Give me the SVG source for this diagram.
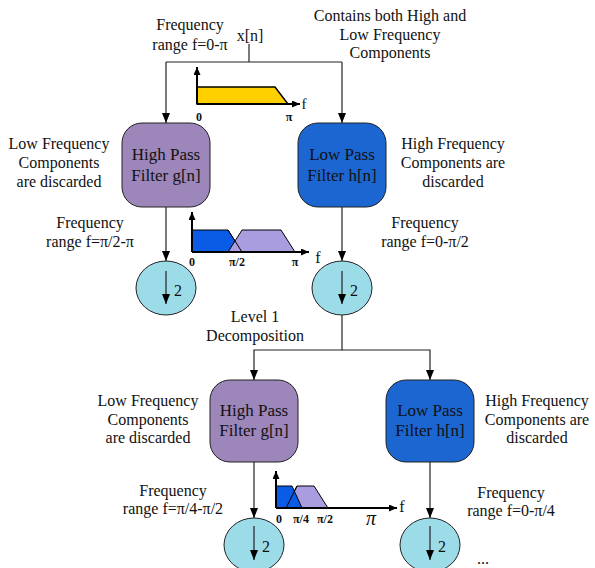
<svg xmlns="http://www.w3.org/2000/svg" width="595" height="568" viewBox="0 0 595 568">
<defs>
<marker id="ah" markerWidth="10" markerHeight="8" refX="10" refY="4" orient="auto" markerUnits="userSpaceOnUse"><path d="M0,0 L10,4 L0,8 z" fill="#000"/></marker>
<marker id="ahs" markerWidth="8" markerHeight="7" refX="8" refY="3.5" orient="auto" markerUnits="userSpaceOnUse"><path d="M0,0 L8,3.5 L0,7 z" fill="#000"/></marker>
<style>
text{font-family:"Liberation Serif","Times New Roman",serif;font-size:16px;fill:#111;text-anchor:middle}
.bx{font-size:17px}
.lbl{font-size:12px;font-weight:bold}
.big{font-size:20px;font-style:italic}
.hp{fill:#9c86ba;stroke:#222;stroke-width:1}
.lp{fill:#1c66d2;stroke:#222;stroke-width:1}
.ds{fill:#9cdbe8;stroke:#222;stroke-width:1}
.c{fill:none;stroke:#222;stroke-width:1.2}
.ax{fill:none;stroke:#000;stroke-width:2}
.sb{fill:#0a5ce6;stroke:#000;stroke-width:1}
.sp{fill:#a99ddf;stroke:#000;stroke-width:1}
.ln{fill:none;stroke:#000;stroke-width:1}
</style>
</defs>
<rect width="595" height="568" fill="#fff"/>

<g id="connectors">
<path class="c" d="M249,44 V62"/>
<path class="c" d="M166,62 H342"/>
<path class="c" d="M166,62 V123" marker-end="url(#ah)"/>
<path class="c" d="M342,62 V123" marker-end="url(#ah)"/>
<path class="c" d="M166,207 V261" marker-end="url(#ah)"/>
<path class="c" d="M342,207 V261" marker-end="url(#ah)"/>
<path class="c" d="M342,315 V350 H254 V380" marker-end="url(#ah)"/>
<path class="c" d="M342,350 H430 V380" marker-end="url(#ah)"/>
<path class="c" d="M254,462 V518" marker-end="url(#ah)"/>
<path class="c" d="M430,462 V518" marker-end="url(#ah)"/>
</g>

<g id="input">
<text x="190" y="30">Frequency</text>
<text x="190" y="50">range f=0-π</text>
<text x="250" y="41">x[n]</text>
<text x="390" y="21">Contains both High and</text>
<text x="390" y="40">Low Frequency</text>
<text x="390" y="58">Components</text>
</g>

<g id="spectrum0">
<polygon points="197,87 275,87 288,104 197,104" fill="#ffd000" stroke="#000" stroke-width="1.5"/>
<path class="ax" d="M197,104 V67" marker-end="url(#ahs)"/>
<path class="ax" d="M197,104 H300" marker-end="url(#ahs)"/>
<text class="lbl" x="199" y="121">0</text>
<text class="lbl" x="289" y="121">π</text>
<text x="304" y="109" style="font-size:15px">f</text>
</g>

<g id="hpf1">
<rect class="hp" x="122" y="123" width="88" height="84" rx="20"/>
<text class="bx" x="166" y="160">High Pass</text>
<text class="bx" x="166" y="181">Filter g[n]</text>
</g>
<g id="lpf1">
<rect class="lp" x="298" y="123" width="88" height="84" rx="20"/>
<text class="bx" x="342" y="160">Low Pass</text>
<text class="bx" x="342" y="181">Filter h[n]</text>
</g>
<g id="notes1">
<text x="59" y="149">Low Frequency</text>
<text x="59" y="168">Components</text>
<text x="59" y="187">are discarded</text>
<text x="453" y="149">High Frequency</text>
<text x="453" y="168">Components are</text>
<text x="453" y="187">discarded</text>
<text x="90" y="228">Frequency</text>
<text x="90" y="247">range f=π/2-π</text>
<text x="425" y="228">Frequency</text>
<text x="425" y="247">range f=0-π/2</text>
</g>

<g id="spectrum1">
<polygon class="sb" points="192,230 228,230 242,252 192,252"/>
<polygon class="sp" points="228,252 242,230 281,230 295,252"/>
<path class="ln" d="M228,230 L242,252"/>
<path class="ax" d="M192,252 V212" marker-end="url(#ahs)"/>
<path class="ax" d="M192,252 H309" marker-end="url(#ahs)"/>
<text class="lbl" x="192" y="266">0</text>
<text class="lbl" x="237" y="266">π/2</text>
<text class="lbl" x="295" y="266">π</text>
<text x="318" y="263">f</text>
</g>

<g id="down1a">
<ellipse class="ds" cx="166" cy="288" rx="30" ry="27"/>
<path class="c" d="M166,271 V304" marker-end="url(#ah)"/>
<text x="178" y="296">2</text>
</g>
<g id="down1b">
<ellipse class="ds" cx="342" cy="288" rx="30" ry="27"/>
<path class="c" d="M342,271 V304" marker-end="url(#ah)"/>
<text x="354" y="296">2</text>
</g>

<g id="level">
<text x="255" y="322">Level 1</text>
<text x="255" y="341">Decomposition</text>
</g>

<g id="hpf2">
<rect class="hp" x="210" y="380" width="88" height="82" rx="20"/>
<text class="bx" x="254" y="416">High Pass</text>
<text class="bx" x="254" y="436">Filter g[n]</text>
</g>
<g id="lpf2">
<rect class="lp" x="386" y="380" width="88" height="82" rx="20"/>
<text class="bx" x="430" y="416">Low Pass</text>
<text class="bx" x="430" y="436">Filter h[n]</text>
</g>
<g id="notes2">
<text x="148" y="406">Low Frequency</text>
<text x="148" y="425">Components</text>
<text x="148" y="443">are discarded</text>
<text x="537" y="406">High Frequency</text>
<text x="537" y="425">Components are</text>
<text x="537" y="443">discarded</text>
<text x="173" y="496">Frequency</text>
<text x="173" y="514">range f=π/4-π/2</text>
<text x="511" y="498">Frequency</text>
<text x="511" y="516">range f=0-π/4</text>
</g>

<g id="spectrum2">
<polygon class="sp" points="286,508 297,486 314,486 328,508"/>
<polygon class="sb" points="276,486 292,486 302,508 276,508"/>
<path class="ln" d="M286,508 L297,486"/>
<path class="ax" d="M276,508 V471" marker-end="url(#ahs)"/>
<path class="ax" d="M276,508 H397" marker-end="url(#ahs)"/>
<text class="lbl" x="279" y="523">0</text>
<text class="lbl" x="301" y="523">π/4</text>
<text class="lbl" x="325" y="523">π/2</text>
<text class="big" x="371" y="525">π</text>
<text x="402" y="512">f</text>
</g>

<g id="down2a">
<ellipse class="ds" cx="254" cy="545" rx="30" ry="27"/>
<path class="c" d="M254,526 V560" marker-end="url(#ah)"/>
<text x="266" y="552">2</text>
</g>
<g id="down2b">
<ellipse class="ds" cx="430" cy="545" rx="30" ry="27"/>
<path class="c" d="M430,526 V560" marker-end="url(#ah)"/>
<text x="442" y="552">2</text>
</g>
<text x="483" y="564">...</text>
</svg>
